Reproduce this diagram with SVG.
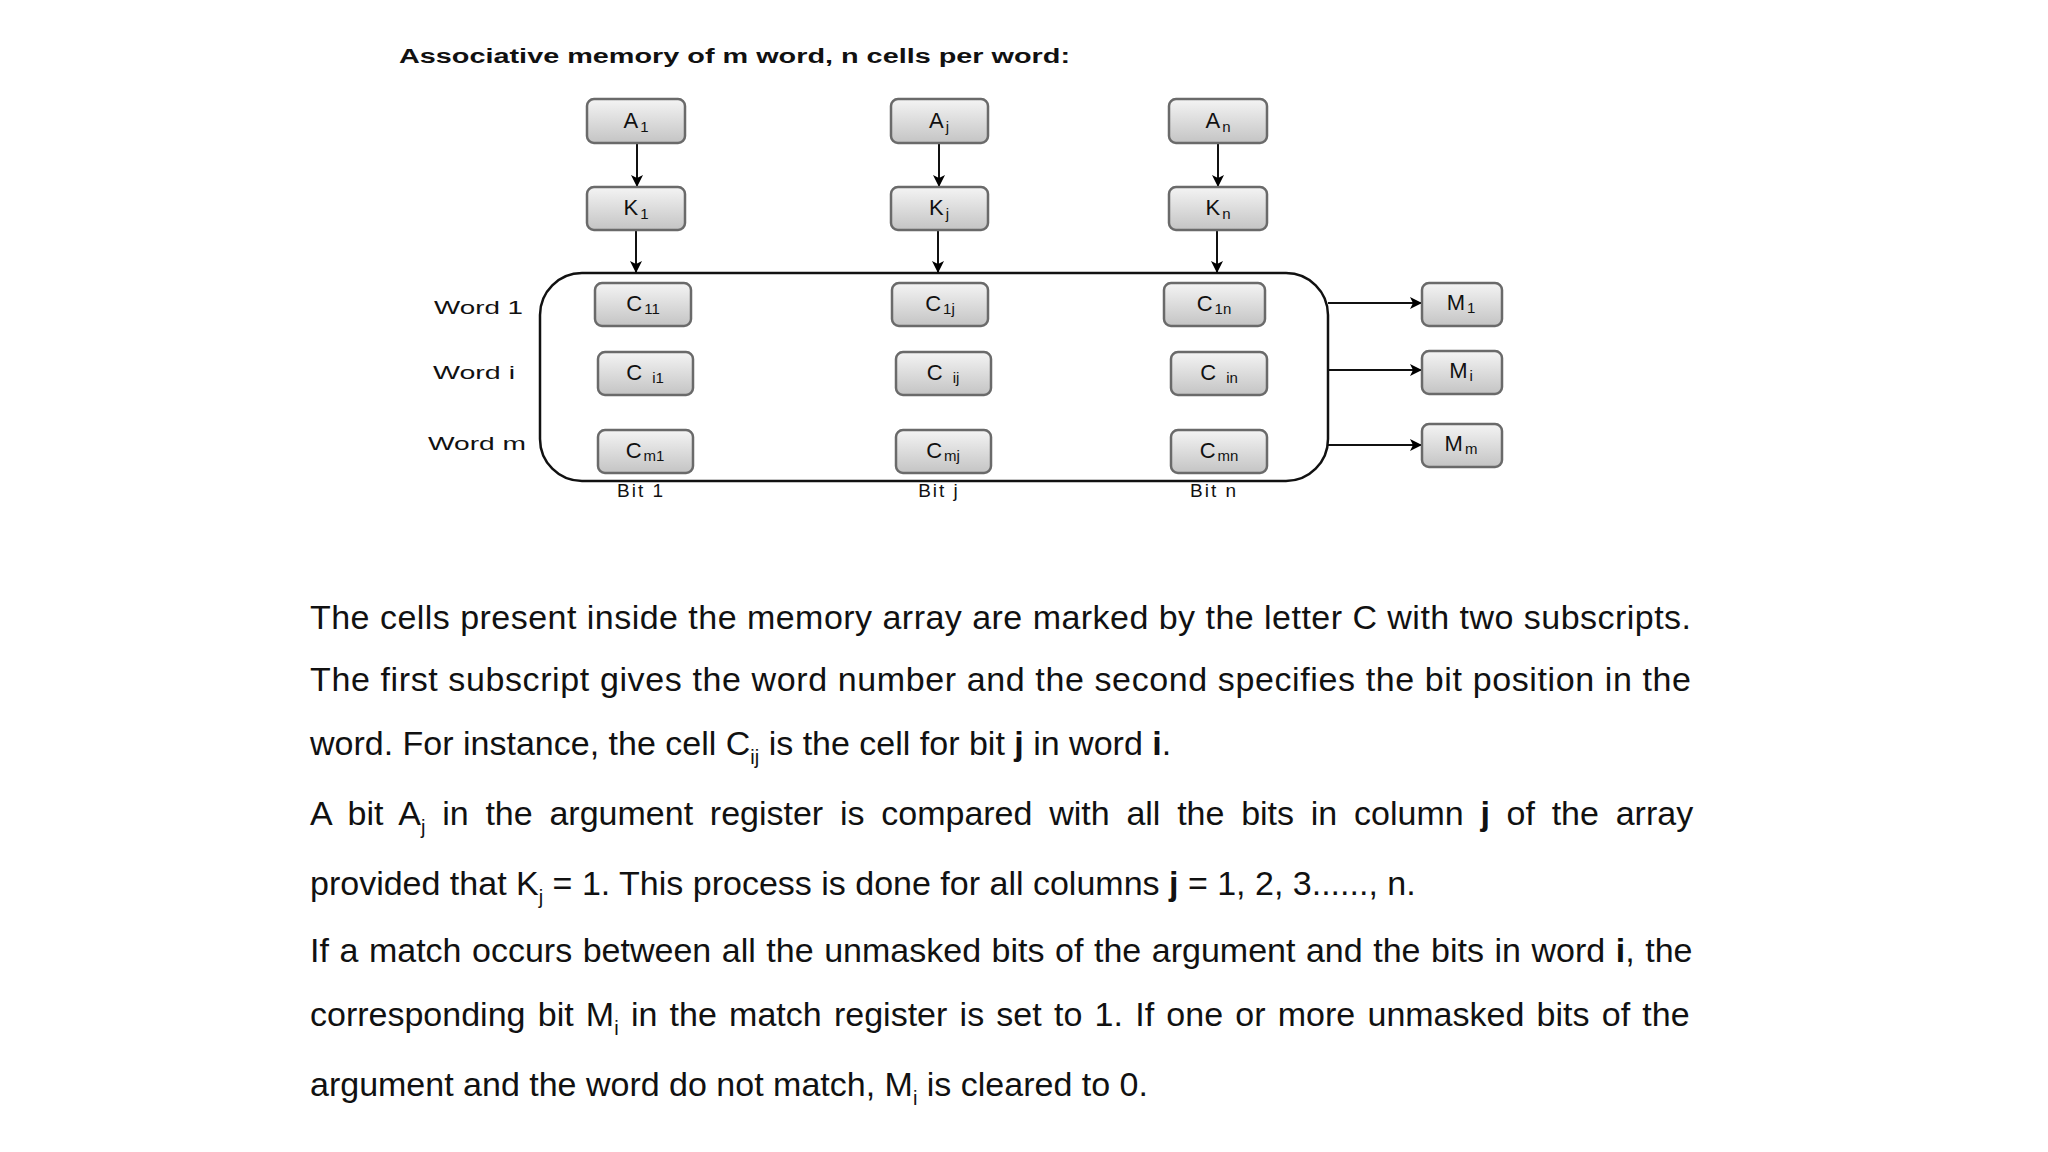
<svg xmlns="http://www.w3.org/2000/svg" width="2048" height="1152" viewBox="0 0 2048 1152">
<defs>
<linearGradient id="g" x1="0" y1="0" x2="0" y2="1"><stop offset="0" stop-color="#f4f4f4"/><stop offset="1" stop-color="#c4c4c4"/></linearGradient>
<marker id="ah" markerWidth="12" markerHeight="12" refX="11" refY="6" orient="auto" markerUnits="userSpaceOnUse"><path d="M0,0 L12,6 L0,12 L3,6 Z" fill="#000"/></marker>
<style>
.b{fill:url(#g);stroke:#6a6a6a;stroke-width:2.5}
.t{font-family:"Liberation Sans",Arial,sans-serif;font-size:22px;letter-spacing:2px;fill:#111;text-anchor:middle}
.s{font-size:15px;letter-spacing:0}
.l{font-family:"Liberation Sans",Arial,sans-serif;font-size:19px;fill:#111}
.p{font-family:"Liberation Sans",Arial,sans-serif;font-size:34px;fill:#111}
.c{stroke:#111;stroke-width:2;fill:none;marker-end:url(#ah)}
</style>
</defs>
<rect width="2048" height="1152" fill="#fff"/>
<text x="399" y="63" font-family="Liberation Sans,Arial,sans-serif" font-weight="bold" font-size="20" textLength="671" lengthAdjust="spacingAndGlyphs" fill="#111">Associative memory of m word, n cells per word:</text>
<rect x="540" y="273" width="788" height="208" rx="42" fill="none" stroke="#111" stroke-width="2.5"/>
<g id="connectors">
<line class="c" x1="637" y1="143" x2="637" y2="186"/>
<line class="c" x1="939" y1="143" x2="939" y2="186"/>
<line class="c" x1="1218" y1="143" x2="1218" y2="186"/>
<line class="c" x1="636" y1="230" x2="636" y2="272"/>
<line class="c" x1="938" y1="230" x2="938" y2="272"/>
<line class="c" x1="1217" y1="230" x2="1217" y2="272"/>
<line class="c" x1="1328" y1="303" x2="1421" y2="303"/>
<line class="c" x1="1328" y1="370" x2="1421" y2="370"/>
<line class="c" x1="1328" y1="445" x2="1421" y2="445"/>
</g>
<g id="A1"><rect class="b" x="587" y="99" width="98" height="44" rx="7"/><text class="t" x="636" y="128">A<tspan class="s" dy="4">1</tspan></text></g>
<g id="Aj"><rect class="b" x="891" y="99" width="97" height="44" rx="7"/><text class="t" x="939" y="128">A<tspan class="s" dy="4">j</tspan></text></g>
<g id="An"><rect class="b" x="1169" y="99" width="98" height="44" rx="7"/><text class="t" x="1218" y="128">A<tspan class="s" dy="4">n</tspan></text></g>
<g id="K1"><rect class="b" x="587" y="187" width="98" height="43" rx="7"/><text class="t" x="636" y="215">K<tspan class="s" dy="4">1</tspan></text></g>
<g id="Kj"><rect class="b" x="891" y="187" width="97" height="43" rx="7"/><text class="t" x="939" y="215">K<tspan class="s" dy="4">j</tspan></text></g>
<g id="Kn"><rect class="b" x="1169" y="187" width="98" height="43" rx="7"/><text class="t" x="1218" y="215">K<tspan class="s" dy="4">n</tspan></text></g>
<g id="C11"><rect class="b" x="595" y="283" width="96" height="43" rx="7"/><text class="t" x="643" y="311">C<tspan class="s" dy="3">11</tspan></text></g>
<g id="C1j"><rect class="b" x="892" y="283" width="96" height="43" rx="7"/><text class="t" x="940" y="311">C<tspan class="s" dy="3">1j</tspan></text></g>
<g id="C1n"><rect class="b" x="1164" y="283" width="101" height="43" rx="7"/><text class="t" x="1214" y="311">C<tspan class="s" dy="3">1n</tspan></text></g>
<g id="Ci1"><rect class="b" x="598" y="352" width="95" height="43" rx="7"/><text class="t" x="645" y="380">C <tspan class="s" dy="3">i1</tspan></text></g>
<g id="Cij"><rect class="b" x="896" y="352" width="95" height="43" rx="7"/><text class="t" x="943" y="380">C <tspan class="s" dy="3">ij</tspan></text></g>
<g id="Cin"><rect class="b" x="1171" y="352" width="96" height="43" rx="7"/><text class="t" x="1219" y="380">C <tspan class="s" dy="3">in</tspan></text></g>
<g id="Cm1"><rect class="b" x="598" y="430" width="95" height="43" rx="7"/><text class="t" x="645" y="458">C<tspan class="s" dy="3">m1</tspan></text></g>
<g id="Cmj"><rect class="b" x="896" y="430" width="95" height="43" rx="7"/><text class="t" x="943" y="458">C<tspan class="s" dy="3">mj</tspan></text></g>
<g id="Cmn"><rect class="b" x="1171" y="430" width="96" height="43" rx="7"/><text class="t" x="1219" y="458">C<tspan class="s" dy="3">mn</tspan></text></g>
<g id="M1"><rect class="b" x="1422" y="283" width="80" height="43" rx="7"/><text class="t" x="1461" y="310">M<tspan class="s" dy="3">1</tspan></text></g>
<g id="Mi"><rect class="b" x="1422" y="351" width="80" height="43" rx="7"/><text class="t" x="1461" y="378">M<tspan class="s" dy="3">i</tspan></text></g>
<g id="Mm"><rect class="b" x="1422" y="424" width="80" height="43" rx="7"/><text class="t" x="1461" y="451">M<tspan class="s" dy="3">m</tspan></text></g>
<text class="l" x="434" y="314" textLength="89" lengthAdjust="spacingAndGlyphs">Word 1</text>
<text class="l" x="433" y="379" textLength="82" lengthAdjust="spacingAndGlyphs">Word i</text>
<text class="l" x="428" y="450" textLength="98" lengthAdjust="spacingAndGlyphs">Word m</text>
<text class="l" x="641" y="497" text-anchor="middle" letter-spacing="2">Bit 1</text>
<text class="l" x="939" y="497" text-anchor="middle" letter-spacing="2">Bit j</text>
<text class="l" x="1214" y="497" text-anchor="middle" letter-spacing="2">Bit n</text>
<text class="p" x="310" y="629" textLength="1381" lengthAdjust="spacing">The cells present inside the memory array are marked by the letter C with two subscripts.</text>
<text class="p" x="310" y="691" textLength="1381" lengthAdjust="spacing">The first subscript gives the word number and the second specifies the bit position in the</text>
<text class="p" x="310" y="755">word. For instance, the cell C<tspan font-size="20" dy="9">ij</tspan><tspan dy="-9"> is the cell for bit </tspan><tspan font-weight="bold">j</tspan> in word <tspan font-weight="bold">i</tspan>.</text>
<text class="p" x="310" y="825" word-spacing="7.3">A bit A<tspan font-size="20" dy="9">j</tspan><tspan dy="-9"> in the argument register is compared with all the bits in column </tspan><tspan font-weight="bold">j</tspan> of the array</text>
<text class="p" x="310" y="895">provided that K<tspan font-size="20" dy="9">j</tspan><tspan dy="-9"> = 1. This process is done for all columns </tspan><tspan font-weight="bold">j</tspan> = 1, 2, 3......, n.</text>
<text class="p" x="310" y="962" word-spacing="1.1">If a match occurs between all the unmasked bits of the argument and the bits in word <tspan font-weight="bold">i</tspan>, the</text>
<text class="p" x="310" y="1026" word-spacing="2.8">corresponding bit M<tspan font-size="20" dy="9">i</tspan><tspan dy="-9"> in the match register is set to 1. If one or more unmasked bits of the</tspan></text>
<text class="p" x="310" y="1096">argument and the word do not match, M<tspan font-size="20" dy="9">i</tspan><tspan dy="-9"> is cleared to 0.</tspan></text>
</svg>
